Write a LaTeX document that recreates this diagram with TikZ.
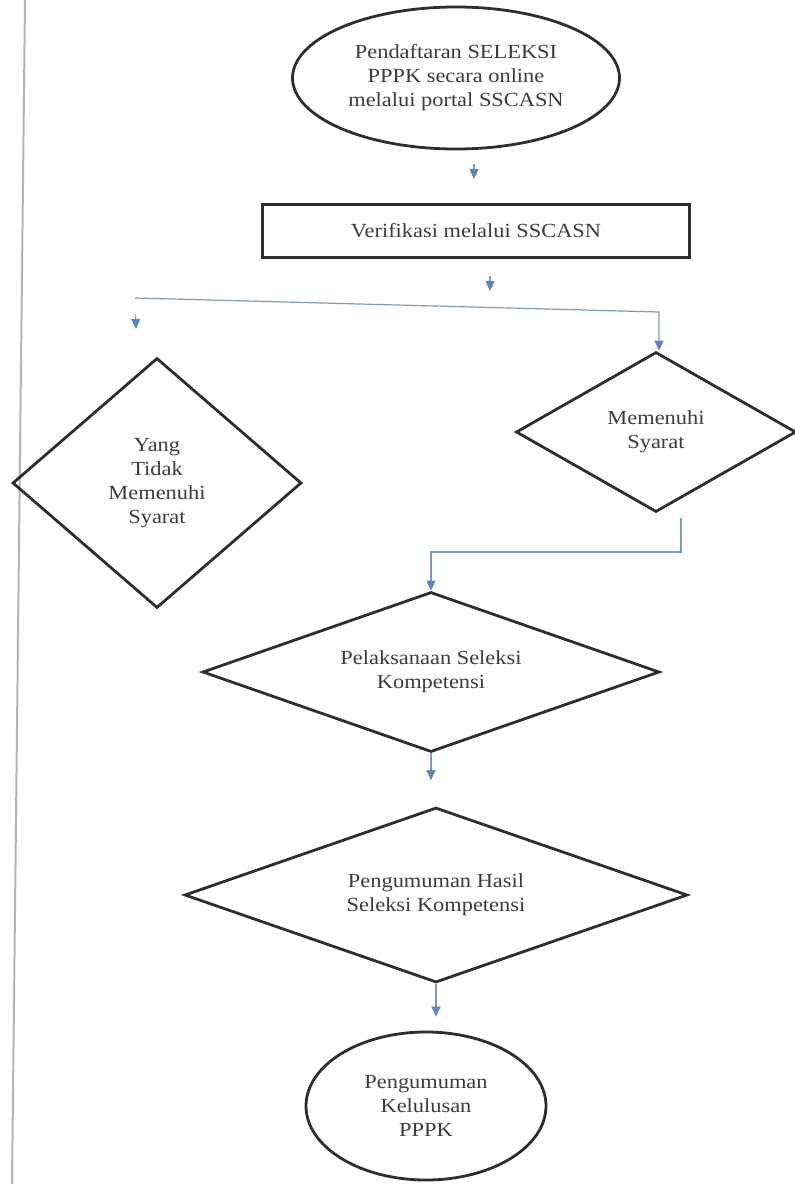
\documentclass[tikz,border=0pt]{standalone}
\usepackage{fontspec}
\setmainfont{Liberation Serif}[FakeStretch=1.12]
\usetikzlibrary{shapes.geometric,arrows.meta}
\definecolor{ink}{HTML}{2E2E2E}
\definecolor{txt}{HTML}{3C3C3C}
\definecolor{wire}{HTML}{7F9CB6}
\definecolor{tipblue}{HTML}{5A87C2}
\definecolor{rule}{HTML}{B4B4B4}
\begin{document}
\begin{tikzpicture}[x=1pt,y=-1pt,
  every node/.style={font=\fontsize{20}{24}\selectfont, text=txt, align=center, inner sep=0pt},
  outline/.style={draw=ink, line width=2.8pt},
  oval/.style={outline, ellipse},
  box/.style={outline, rectangle},
  choice/.style={outline, diamond},
  flow/.style={draw=wire, line width=1.2pt,
    -{Triangle[width=9pt,length=10pt,fill=tipblue,color=tipblue]}},
]
\fill[white] (0,0) rectangle (795,1184);
\useasboundingbox (0,0) rectangle (795,1184);

% page margin rule
\draw[rule, line width=2pt] (25,0) -- (12,1184);

% process steps
\node[oval, minimum width=327pt, minimum height=142pt] (reg) at (456,78)
  {Pendaftaran SELEKSI\\PPPK secara online\\melalui portal SSCASN};
\node[box, minimum width=427pt, minimum height=53pt] (verif) at (476,231)
  {Verifikasi melalui SSCASN};
\node[choice, aspect=1.16, minimum width=289pt, minimum height=250pt] (fail) at (157,483)
  {Yang\\Tidak\\Memenuhi\\Syarat};
\node[choice, aspect=1.75, minimum width=280pt, minimum height=160pt] (pass) at (656,432)
  {Memenuhi\\Syarat};
\node[choice, aspect=2.86, minimum width=457pt, minimum height=160pt] (test) at (431,672)
  {Pelaksanaan Seleksi\\Kompetensi};
\node[choice, aspect=2.87, minimum width=503pt, minimum height=175pt] (result) at (436,895)
  {Pengumuman Hasil\\Seleksi Kompetensi};
\node[oval, minimum width=240pt, minimum height=148pt] (final) at (426,1106)
  {Pengumuman\\Kelulusan\\PPPK};

% connector helpers
\coordinate (c1) at (474,0);
\coordinate (c2) at (490,0);
\coordinate (split-l) at (135,298);
\coordinate (split-r) at (659,312);
\coordinate (fail-in) at (136,329);
\coordinate (pass-out) at (681,518);
\coordinate (test-in) at (431,552);

% connectors
\draw[flow, shorten <=14pt, shorten >=24pt] (reg.south -| c1) -- (verif.north -| c1);
\draw[flow, shorten <=17pt, shorten >=16pt] (verif.south -| c2) -- (c2 |- 0,307);
\draw[flow] (split-l) -- (split-r) -- (split-r |- pass.north);
\draw[flow, shorten <=17pt] (split-l) -- (fail-in);
\draw[flow] (pass-out) |- (test-in) -- (test.north);
\draw[flow, shorten >=26pt] (test.south) -- (test.south |- result.north);
\draw[flow, shorten >=14pt] (result.south) -- (result.south |- final.north);
\end{tikzpicture}
\end{document}
